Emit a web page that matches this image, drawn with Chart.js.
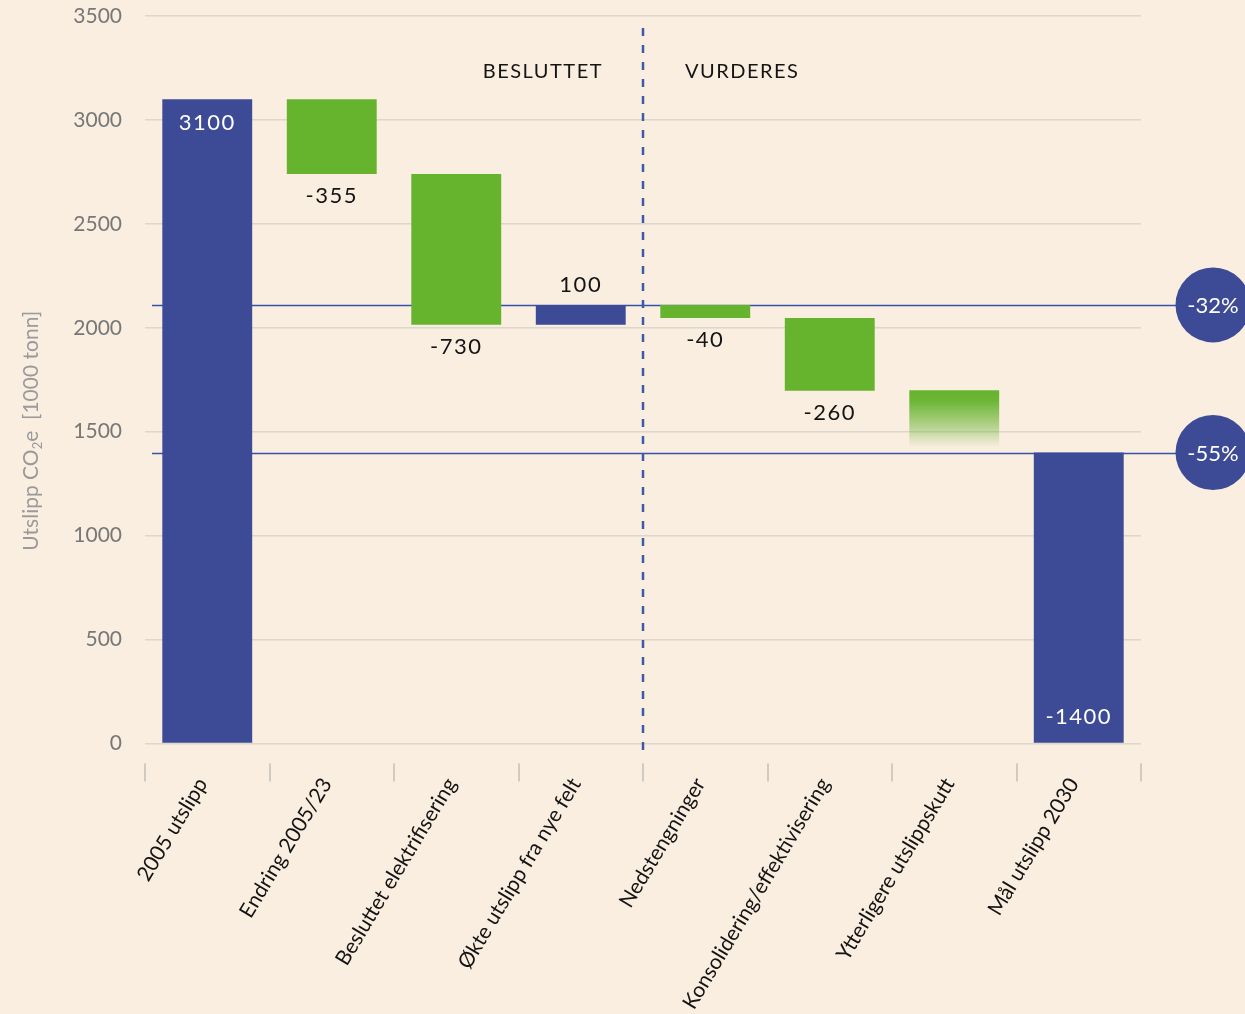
<!DOCTYPE html>
<html lang="no">
<head>
<meta charset="utf-8">
<title>Utslipp CO2e – vei mot 2030</title>
<script src="https://cdn.jsdelivr.net/npm/chart.js@4.4.1/dist/chart.umd.min.js"></script>
<style>
  html, body { margin: 0; padding: 0; background: #faeee0; }
  #wrap { width: 1245px; height: 1014px; }
</style>
</head>
<body>
<div id="wrap"><canvas id="waterfall" width="1245" height="1014"></canvas></div>
<script>
// ---- data (1000 tonn CO2e) ----
const categories = [
  "2005 utslipp",
  "Endring 2005/23",
  "Besluttet elektrifisering",
  "Økte utslipp fra nye felt",
  "Nedstengninger",
  "Konsolidering/effektivisering",
  "Ytterligere utslippskutt",
  "Mål utslipp 2030"
];
const barFrom = [0, 3100, 2740, 2015, 2110, 2047, 1700, 0];
const barTo = [3100, 2740, 2015, 2110, 2047, 1697, 1400, 1400];
const barType = ["total", "cut", "cut", "increase", "cut", "cut", "potential", "total"];
const barLabels = ["3100", "-355", "-730", "100", "-40", "-260", "", "-1400"];
const yTicks = [0, 500, 1000, 1500, 2000, 2500, 3000, 3500];
const refLevels = [2110, 1400];
const refLabels = ["-32%", "-55%"];
const sectionLabels = ["BESLUTTET", "VURDERES"];
const sectionSplit = 4; // first category in "VURDERES"

const BLUE = "#3d4a96";
const GREEN = "#66b32e";
const LINE_BLUE = "#3552aa";
const BG = "#faeee0";
const FONT = "Lato, 'Noto Sans', sans-serif";

function barColor(ctx) {
  const i = ctx.dataIndex;
  const type = barType[i];
  if (type === "total" || type === "increase") return BLUE;
  if (type === "potential") {
    const chart = ctx.chart;
    if (!chart.chartArea) return GREEN;
    const y = chart.scales.y;
    const g = chart.ctx.createLinearGradient(0, y.getPixelForValue(barFrom[i]), 0, y.getPixelForValue(barTo[i]));
    g.addColorStop(0, GREEN);
    g.addColorStop(0.18, "rgba(102,179,46,0.95)");
    g.addColorStop(0.6, "rgba(102,179,46,0.45)");
    g.addColorStop(0.92, "rgba(102,179,46,0)");
    return g;
  }
  return GREEN;
}

const background = {
  id: "background",
  beforeDraw(chart) {
    const c = chart.ctx;
    c.save();
    c.fillStyle = BG;
    c.fillRect(0, 0, chart.width, chart.height);
    c.restore();
  }
};

// reference lines go behind bars, circles and labels on top
const decorations = {
  id: "decorations",
  beforeDatasetsDraw(chart) {
    const c = chart.ctx, y = chart.scales.y, area = chart.chartArea;
    c.save();
    c.strokeStyle = LINE_BLUE;
    c.lineWidth = 1.3;
    refLevels.forEach(v => {
      const py = Math.round(y.getPixelForValue(v)) + 0.5;
      c.beginPath();
      c.moveTo(area.left + 7, py);
      c.lineTo(chart.width, py);
      c.stroke();
    });
    c.restore();
  },
  afterDatasetsDraw(chart) {
    const c = chart.ctx, x = chart.scales.x, y = chart.scales.y, area = chart.chartArea;
    const meta = chart.getDatasetMeta(0);
    c.save();

    // tick marks at category boundaries
    const step = x.width / categories.length;
    c.strokeStyle = "#cfcac2";
    c.lineWidth = 2;
    for (let i = 0; i <= categories.length; i++) {
      const px = Math.round(x.left + i * step);
      c.beginPath();
      c.moveTo(px, area.bottom + 20);
      c.lineTo(px, area.bottom + 38);
      c.stroke();
    }

    // dashed divider between sections
    const divX = (meta.data[sectionSplit - 1].x + meta.data[sectionSplit].x) / 2;
    c.strokeStyle = "#3d5aa8";
    c.lineWidth = 2.5;
    c.setLineDash([8, 9]);
    c.beginPath();
    c.moveTo(divX, area.top + 12);
    c.lineTo(divX, area.bottom + 12);
    c.stroke();
    c.setLineDash([]);

    // section labels
    c.fillStyle = "#141414";
    c.font = "20px " + FONT;
    c.letterSpacing = "1.5px";
    c.textBaseline = "middle";
    c.textAlign = "right";
    c.fillText(sectionLabels[0], divX - 40, area.top + 56);
    c.textAlign = "left";
    c.fillText(sectionLabels[1], divX + 42, area.top + 56);

    // value labels
    c.font = "22px " + FONT;
    c.letterSpacing = "1.5px";
    c.textAlign = "center";
    meta.data.forEach((bar, i) => {
      if (!barLabels[i]) return;
      const top = y.getPixelForValue(Math.max(barFrom[i], barTo[i]));
      const bottom = y.getPixelForValue(Math.min(barFrom[i], barTo[i]));
      const type = barType[i];
      let py;
      if (type === "total") {
        c.fillStyle = "#ffffff";
        py = i === 0 ? top + 24 : bottom - 27;
      } else if (type === "increase") {
        c.fillStyle = "#141414";
        py = top - 20;
      } else {
        c.fillStyle = "#141414";
        py = bottom + 22;
      }
      c.fillText(barLabels[i], bar.x, py);
    });

    // reduction circles at right edge
    c.letterSpacing = "0px";
    c.font = "22px " + FONT;
    refLevels.forEach((v, i) => {
      const py = y.getPixelForValue(v);
      const cx = chart.width - 32;
      c.fillStyle = BLUE;
      c.beginPath();
      c.arc(cx, py, 37.5, 0, Math.PI * 2);
      c.fill();
      c.fillStyle = "#ffffff";
      c.fillText(refLabels[i], cx, py + 1);
    });

    // y axis title with subscript
    const cy = (area.top + area.bottom) / 2 + 51;
    c.translate(31, cy);
    c.rotate(-Math.PI / 2);
    c.fillStyle = "#9a9a9a";
    c.textAlign = "left";
    const p1 = "Utslipp CO", p2 = "2", p3 = "e  [1000 tonn]";
    c.font = "21px " + FONT;
    const w1 = c.measureText(p1).width, w3 = c.measureText(p3).width;
    c.font = "13px " + FONT;
    const w2 = c.measureText(p2).width;
    let tx = -(w1 + w2 + w3) / 2;
    c.font = "21px " + FONT;
    c.fillText(p1, tx, 0);
    tx += w1;
    c.font = "13px " + FONT;
    c.fillText(p2, tx, 7);
    tx += w2;
    c.font = "21px " + FONT;
    c.fillText(p3, tx, 0);

    c.restore();
  }
};

new Chart(document.getElementById("waterfall"), {
  type: "bar",
  data: {
    labels: categories,
    datasets: [{
      data: categories.map((_, i) => [barFrom[i], barTo[i]]),
      backgroundColor: barColor,
      borderWidth: 0,
      borderSkipped: false,
      categoryPercentage: 1,
      barPercentage: 0.722
    }]
  },
  options: {
    responsive: false,
    animation: false,
    layout: { padding: { top: 16, right: 104, left: 0, bottom: 0 } },
    plugins: {
      legend: { display: false },
      tooltip: { enabled: false }
    },
    scales: {
      x: {
        grid: { display: false },
        border: { display: false },
        afterFit: s => { s.height = 270.5; },
        ticks: {
          autoSkip: false,
          minRotation: 59,
          maxRotation: 59,
          padding: 22,
          labelOffset: -5,
          color: "#141414",
          font: { family: FONT, size: 21 }
        }
      },
      y: {
        min: 0,
        max: 3500,
        afterBuildTicks: s => { s.ticks = yTicks.map(v => ({ value: v })); },
        afterFit: s => { s.width = 145; s.paddingTop = 0; s.paddingBottom = 0; },
        grid: { color: "#dcd6cc", lineWidth: 1.5, drawTicks: false },
        border: { display: false },
        ticks: {
          padding: 23,
          color: "#777777",
          font: { family: FONT, size: 21 },
          callback: v => String(v)
        }
      }
    }
  },
  plugins: [background, decorations]
});
</script>
</body>
</html>
